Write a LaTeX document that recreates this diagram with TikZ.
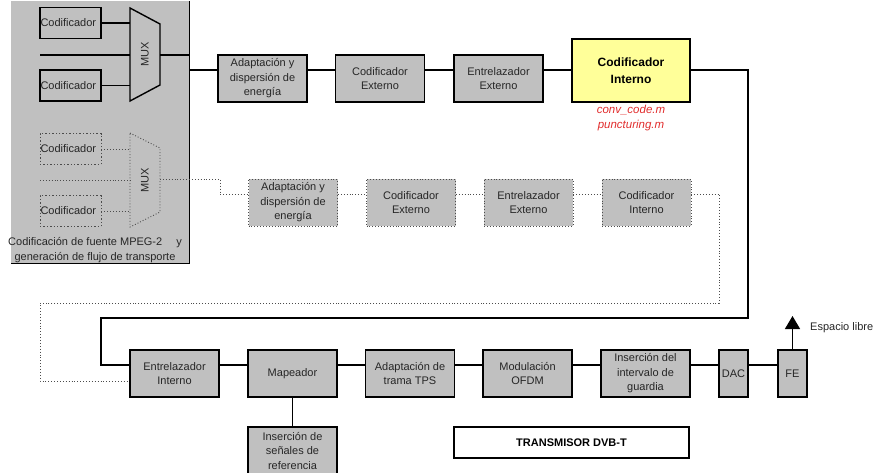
\documentclass[tikz,border=0pt]{standalone}
\usepackage{fontspec}
\setmainfont{Liberation Sans}
\usetikzlibrary{arrows.meta}
\definecolor{gris}{RGB}{192,192,192}
\definecolor{amarillo}{RGB}{255,255,153}
\definecolor{rojo}{RGB}{225,45,45}

\begin{document}
\begin{tikzpicture}[x=1pt, y=-1pt,
    every node/.style={font=\fontsize{11}{14.5}\selectfont, align=center, inner sep=0pt, text=black!85},
    bloque/.style={rectangle, draw, line width=1.4pt, fill=gris, minimum width=89pt, minimum height=47pt},
    bpunt/.style={rectangle, draw=black!70, dotted, line width=0.9pt, fill=gris, minimum width=89pt, minimum height=47pt},
    cod/.style={rectangle, draw, line width=1.4pt, minimum width=61pt, minimum height=31pt, text width=60pt, align=left},
    cpunt/.style={cod, draw=black!70, dotted, line width=0.9pt},
    linea/.style={line width=1.4pt},
    lpunt/.style={draw=black!70, dotted, line width=0.9pt}]
    \useasboundingbox (0,0) rectangle (875,472);

    % codificacion de fuente
    \node[fill=gris, minimum width=178pt, minimum height=262pt] (fuente) at (100,132) {};
    \draw[linea] (fuente.north east) -- (fuente.south east) -- (fuente.south west);
    \node (txtfuente) at (95,250) {Codificación de fuente MPEG-2\hspace{14pt}y\\generación de flujo de transporte};

    \node[cod] (codA1) at (70.5,23) {Codificador};
    \node[cod] (codA2) at (70.5,85.5) {Codificador};
    \node[cpunt] (codB1) at (70.5,149) {Codificador};
    \node[cpunt] (codB2) at (70.5,211) {Codificador};

    \draw[linea, fill=gris] (130,8) -- (160,24) -- (160,85) -- (130,101) -- cycle;
    \draw[lpunt, fill=gris] (130,133) -- (160,148) -- (160,212) -- (130,227) -- cycle;
    \node[rotate=90] (muxA) at (145,54.5) {MUX};
    \node[rotate=90] (muxB) at (145,180) {MUX};
    \coordinate (muxAin) at (130,0);
    \coordinate (muxBin) at (130,0);
    \coordinate (muxAout) at (160,55);
    \coordinate (muxBout) at (160,179);
    \coordinate (entA) at (40,55);
    \coordinate (entB) at (40,180);

    \draw[linea] (codA1.east) -- (codA1.east -| muxAin);
    \draw[linea] (codA2.east) -- (codA2.east -| muxAin);
    \draw[linea] (entA) -- (entA -| muxAin);
    \draw[linea] (muxAout) -- (muxAout -| fuente.east);
    \draw[lpunt] (codB1.east) -- (codB1.east -| muxBin);
    \draw[lpunt] (codB2.east) -- (codB2.east -| muxBin);
    \draw[lpunt] (entB) -- (entB -| muxBin);

    % cadena principal
    \coordinate (filaA) at (0,70);
    \node[bloque] (adapA) at (262.5,78.5) {Adaptación y\\dispersión de\\energía};
    \node[bloque] (codExtA) at (380,78.5) {Codificador\\Externo};
    \node[bloque] (entExtA) at (498.5,78.5) {Entrelazador\\Externo};
    \node[bloque, fill=amarillo, minimum width=118pt, minimum height=63pt,
          font=\fontsize{12}{17}\selectfont\bfseries, text=black] (codIntA) at (631,70.5) {Codificador\\Interno};
    \node[text=rojo, font=\fontsize{11.5}{15}\selectfont\itshape] (mfiles) at (631,118.5) {conv\_code.m\\puncturing.m};

    \draw[linea] (fuente.east |- filaA) -- (adapA.west |- filaA);
    \draw[linea] (adapA.east |- filaA) -- (codExtA.west |- filaA);
    \draw[linea] (codExtA.east |- filaA) -- (entExtA.west |- filaA);
    \draw[linea] (entExtA.east |- filaA) -- (codIntA.west |- filaA);

    % cadena punteada
    \coordinate (filaB) at (0,194);
    \coordinate (codoB) at (220,194);
    \node[bpunt] (adapB) at (293,202.5) {Adaptación y\\dispersión de\\energía};
    \node[bpunt] (codExtB) at (411,202.5) {Codificador\\Externo};
    \node[bpunt] (entExtB) at (528.5,202.5) {Entrelazador\\Externo};
    \node[bpunt] (codIntB) at (646.5,202.5) {Codificador\\Interno};

    \draw[lpunt] (muxBout) -| (codoB) -- (adapB.west |- filaB);
    \draw[lpunt] (adapB.east |- filaB) -- (codExtB.west |- filaB);
    \draw[lpunt] (codExtB.east |- filaB) -- (entExtB.west |- filaB);
    \draw[lpunt] (entExtB.east |- filaB) -- (codIntB.west |- filaB);

    % cadena inferior
    \coordinate (filaC) at (0,365);
    \node[bloque] (entInt) at (174.5,373.5) {Entrelazador\\Interno};
    \node[bloque] (mapeador) at (292.5,373.5) {Mapeador};
    \node[bloque] (tps) at (410,373.5) {Adaptación de\\trama TPS};
    \node[bloque] (ofdm) at (527.5,373.5) {Modulación\\OFDM};
    \node[bloque] (guarda) at (645.5,373.5) {Inserción del\\intervalo de\\guardia};
    \node[bloque, minimum width=29pt] (dac) at (733.5,373.5) {DAC};
    \node[bloque, minimum width=29pt] (fe) at (792.5,373.5) {FE};
    \node[bloque] (refs) at (292.5,450.5) {Inserción de\\señales de\\referencia};
    \node[rectangle, draw, line width=1.4pt, minimum width=235pt, minimum height=31pt,
          font=\fontsize{11}{14}\selectfont\bfseries, text=black] (dvbt) at (571.5,442.5) {TRANSMISOR DVB-T};

    \draw[linea] (entInt.east |- filaC) -- (mapeador.west |- filaC);
    \draw[linea] (mapeador.east |- filaC) -- (tps.west |- filaC);
    \draw[linea] (tps.east |- filaC) -- (ofdm.west |- filaC);
    \draw[linea] (ofdm.east |- filaC) -- (guarda.west |- filaC);
    \draw[linea] (guarda.east |- filaC) -- (dac.west |- filaC);
    \draw[linea] (dac.east |- filaC) -- (fe.west |- filaC);
    \draw[linea] (mapeador.south) -- (refs.north);

    % retornos
    \coordinate (retA) at (748,318);
    \coordinate (retB) at (101,318);
    \coordinate (retC) at (719,303);
    \coordinate (retD) at (40,303);
    \draw[linea] (codIntA.east |- filaA) -| (retA) -- (retB) |- ([yshift=8.5pt]entInt.west);
    \draw[lpunt] (codIntB.east |- filaB) -| (retC) -- (retD) |- ([yshift=-7.5pt]entInt.west);

    % salida
    \coordinate (salida) at (792.5,316);
    \draw[linea, -{Triangle[length=13pt, width=15pt]}] (fe.north) -- (salida);
    \node[anchor=west] (espacio) at (810,328) {Espacio libre};
\end{tikzpicture}
\end{document}
